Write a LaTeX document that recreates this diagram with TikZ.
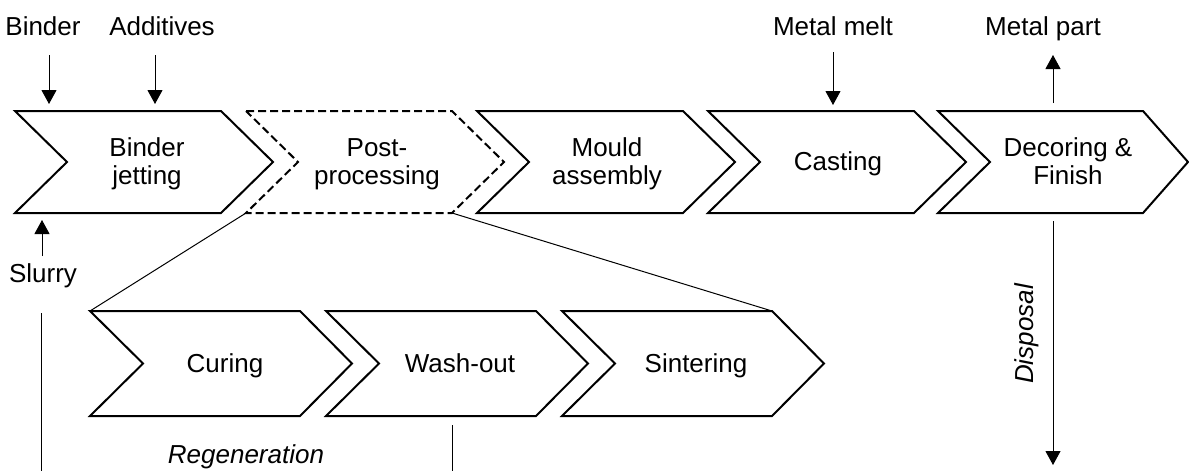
\documentclass[tikz,border=0pt]{standalone}
\usepackage{fontspec}
\setmainfont{Liberation Sans}
\usetikzlibrary{arrows.meta}
\begin{document}
\begin{tikzpicture}[x=1pt,y=-1pt,
  chev/.style={draw=black, line width=2pt, line join=miter, fill=white},
  chevdash/.style={chev, dash pattern=on 8pt off 4pt},
  lbl/.style={font=\fontsize{26}{27.5}\selectfont, align=center, inner sep=0pt},
  ilbl/.style={lbl, font=\fontsize{26}{27.5}\selectfont\itshape},
  flow/.style={line width=1pt, -{Triangle[width=15pt,length=14pt]}},
  thinline/.style={line width=1pt}]
\useasboundingbox (0,0) rectangle (1189,471);

% top row chevrons
\draw[chev] (15,111) -- (221,111) -- (273,162) -- (221,213) -- (15,213) -- (67,162) -- cycle;
\draw[chevdash] (246,111) -- (452,111) -- (504,162) -- (452,213) coordinate (ppbr) -- (246,213) coordinate (ppbl) -- (298,162) -- cycle;
\draw[chev] (477,111) -- (683,111) -- (735,162) -- (683,213) -- (477,213) -- (529,162) -- cycle;
\draw[chev] (708,111) -- (914,111) -- (966,162) -- (914,213) -- (708,213) -- (760,162) -- cycle;
\draw[chev] (938,111) -- (1143,111) -- (1188,162) -- (1143,213) -- (938,213) -- (990,162) -- cycle;

% bottom row chevrons
\draw[chev] (90,311) coordinate (cutl) -- (300,311) -- (352,363.5) -- (300,416) -- (90,416) -- (143,363.5) -- cycle;
\draw[chev] (326,311) -- (536,311) -- (588,363.5) -- (536,416) -- (326,416) -- (379,363.5) -- cycle;
\draw[chev] (562,311) -- (772,311) coordinate (sitr) -- (824,363.5) -- (772,416) -- (562,416) -- (615,363.5) -- cycle;

% zoom lines
\draw[thinline] (ppbl) -- (cutl);
\draw[thinline] (ppbr) -- (sitr);

% chevron texts
\node[lbl] (bj) at (147,165) {\strut Binder\\jetting\strut};
\node[lbl] (pp) at (377,165) {\strut Post-\\processing\strut};
\node[lbl] (ma) at (607,165) {\strut Mould\\assembly\strut};
\node[lbl] (ca) at (838,165) {\strut Casting\strut};
\node[lbl] (df) at (1068,165) {\strut Decoring \&\\Finish\strut};
\node[lbl] (cu) at (225,366.5) {\strut Curing\strut};
\node[lbl] (wo) at (460,366.5) {\strut Wash-out\strut};
\node[lbl] (si) at (696,366.5) {\strut Sintering\strut};

% labels
\node[lbl, anchor=base] (binder) at (43,35) {Binder};
\node[lbl, anchor=base] (additives) at (162,35) {Additives};
\node[lbl, anchor=base] (melt) at (833,35) {Metal melt};
\node[lbl, anchor=base] (part) at (1043,35) {Metal part};
\node[lbl, anchor=base] (slurry) at (43,282) {Slurry};
\node[ilbl, anchor=base] (regen) at (246,463) {Regeneration};
\node[ilbl, anchor=base, rotate=90] (disp) at (1033,334) {Disposal};

% arrow coordinates
\coordinate (binA) at (49,55);   \coordinate (binB) at (49,104);
\coordinate (addA) at (155,55);  \coordinate (addB) at (155,104);
\coordinate (melA) at (833,52);  \coordinate (melB) at (833,105);
\coordinate (parA) at (1053,103); \coordinate (parB) at (1053,55);
\coordinate (sluA) at (42,256);  \coordinate (sluB) at (42,220);
\coordinate (sluC) at (41,313);  \coordinate (sluD) at (41,471);
\coordinate (regA) at (452,425); \coordinate (regB) at (452,471);
\coordinate (disA) at (1053,221); \coordinate (disB) at (1053,465);

\draw[flow] (binA) -- (binB);
\draw[flow] (addA) -- (addB);
\draw[flow] (melA) -- (melB);
\draw[flow] (parA) -- (parB);
\draw[flow] (sluA) -- (sluB);
\draw[thinline] (sluC) -- (sluD);
\draw[thinline] (regA) -- (regB);
\draw[flow] (disA) -- (disB);
\end{tikzpicture}
\end{document}
